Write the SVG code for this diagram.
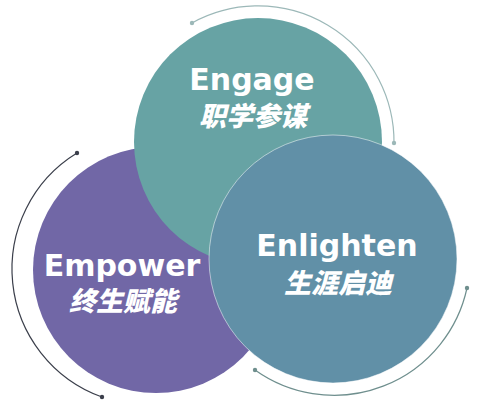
<svg xmlns="http://www.w3.org/2000/svg" width="478" height="408" viewBox="0 0 478 408">
<style>
.en{font-family:"DejaVu Sans",sans-serif;font-weight:bold;font-size:30px;fill:#fff;text-anchor:middle}
.zh{font-family:"Noto Sans CJK SC",sans-serif;font-weight:900;font-style:italic;font-size:27px;fill:#fff;text-anchor:middle}
.arc{fill:none;stroke-width:1.2}
</style>
<rect width="478" height="408" fill="#fff"/>
<g id="connectors">
<path class="arc" d="M192 23 A136 136 0 0 1 394 143" stroke="#9cb8b8"/>
<circle cx="192" cy="23" r="2.2" fill="#9cb8b8"/>
<circle cx="394" cy="143" r="2.2" fill="#9cb8b8"/>
<path class="arc" d="M77 153 A136 136 0 0 0 102 397" stroke="#3b3f4b"/>
<circle cx="77" cy="153" r="2.2" fill="#3b3f4b"/>
<circle cx="102" cy="397" r="2.2" fill="#3b3f4b"/>
<path class="arc" d="M255 370 A136 136 0 0 0 467 288" stroke="#6f8f8e"/>
<circle cx="255" cy="370" r="2.2" fill="#6f8f8e"/>
<circle cx="467" cy="288" r="2.2" fill="#6f8f8e"/>
</g>
<g id="empower">
<circle cx="156" cy="270" r="123" fill="#7167a6"/>
</g>
<g id="engage">
<circle cx="258" cy="142" r="124" fill="#67a3a4"/>
<text class="en" x="252" y="90">Engage</text>
<text class="zh" x="253" y="126">职学参谋</text>
</g>
<g id="enlighten">
<circle cx="333" cy="259" r="124" fill="#6190a7" stroke="#ffffff" stroke-opacity="0.5" stroke-width="1"/>
<text class="en" x="337" y="256">Enlighten</text>
<text class="zh" x="338" y="293">生涯启迪</text>
</g>
<g id="empower-label">
<text class="en" x="122" y="276">Empower</text>
<text class="zh" x="123" y="311">终生赋能</text>
</g>
</svg>
